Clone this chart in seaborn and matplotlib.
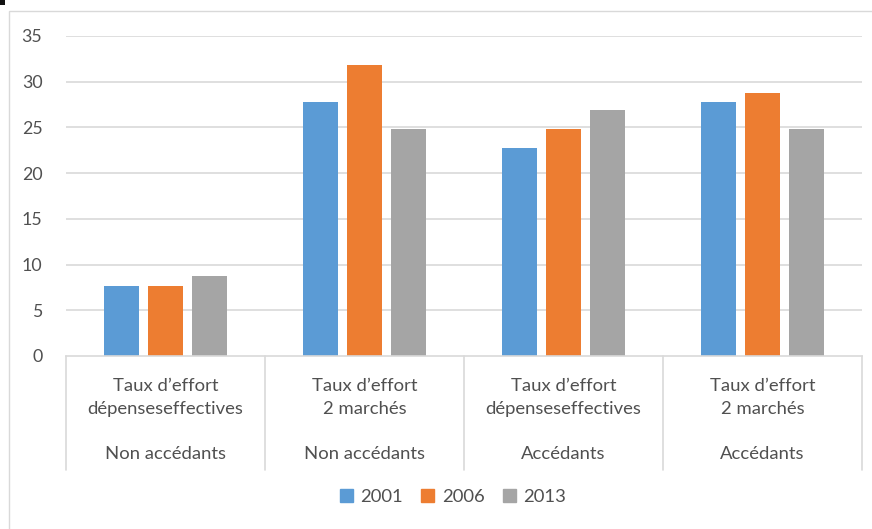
import matplotlib
matplotlib.use("Agg")
import matplotlib.pyplot as plt
import matplotlib.patches as mpatches
import matplotlib.transforms as mtransforms
import seaborn as sns
import pandas as pd

# Data
groups = ["g1", "g2", "g3", "g4"]
level1_labels = ["Taux d’effort\ndépenseseffectives", "Taux d’effort\n2 marchés",
                 "Taux d’effort\ndépenseseffectives", "Taux d’effort\n2 marchés"]
level2_labels = ["Non accédants", "Non accédants", "Accédants", "Accédants"]
years = ["2001", "2006", "2013"]
values_2001 = [7.7, 27.8, 22.8, 27.8]
values_2006 = [7.7, 31.8, 24.8, 28.8]
values_2013 = [8.7, 24.8, 26.9, 24.8]
y_ticks = [0, 5, 10, 15, 20, 25, 30, 35]

colors = ["#5B9BD5", "#ED7D31", "#A5A5A5"]
text_color = "#505050"
grid_color = "#D9D9D9"

rows = []
for yr, vals in zip(years, [values_2001, values_2006, values_2013]):
    for g, v in zip(groups, vals):
        rows.append({"group": g, "year": yr, "value": v})
df = pd.DataFrame(rows)

sns.set_theme(style="white")
plt.rcParams["font.family"] = ["Lato", "DejaVu Sans"]

W, H = 872, 529
fig = plt.figure(figsize=(W / 100, H / 100), dpi=100)
ax = fig.add_axes([66 / W, 1 - 356 / H, (862 - 66) / W, (356 - 36) / H])

sns.barplot(data=df, x="group", y="value", hue="year", order=groups, hue_order=years,
            palette=colors, width=0.67, gap=0.21, saturation=1, ax=ax,
            legend=False, edgecolor="none")

ax.set_ylim(0, 35)
ax.set_xlim(-0.5, 3.5)
ax.set_yticks(y_ticks)
ax.set_yticklabels([str(t) for t in y_ticks])
ax.tick_params(axis="y", length=0, pad=17, labelsize=12.8, labelcolor=text_color)
ax.set_xticks([])
ax.set_xlabel("")
ax.set_ylabel("")
for t in y_ticks[1:]:
    ax.axhline(t, color=grid_color, lw=1.2, zorder=0)
for side in ["top", "right", "left"]:
    ax.spines[side].set_visible(False)
ax.spines["bottom"].set_color(grid_color)
ax.spines["bottom"].set_linewidth(1.2)

# Two-level category axis
trans = mtransforms.blended_transform_factory(ax.transData, ax.transAxes)
ax_h = 356 - 36
def yfrac(py):
    return (356 - py) / ax_h

for xb in [-0.5, 0.5, 1.5, 2.5, 3.5]:
    ax.plot([xb, xb], [0, yfrac(470)], transform=trans, color=grid_color,
            lw=1.2, clip_on=False)
for i, (l1, l2) in enumerate(zip(level1_labels, level2_labels)):
    ax.text(i, yfrac(397.5), l1, transform=trans, ha="center", va="center",
            fontsize=13.3, color=text_color, linespacing=1.55)
    ax.text(i, yfrac(454), l2, transform=trans, ha="center", va="center",
            fontsize=13.3, color=text_color)

# Legend
handles = [mpatches.Patch(color=c, label=y) for c, y in zip(colors, years)]
fig.legend(handles=handles, loc="center", bbox_to_anchor=(453 / W, 1 - 497 / H),
           ncol=3, frameon=False, fontsize=13.3, handlelength=0.7, handleheight=0.7,
           handletextpad=0.4, columnspacing=1.0, labelcolor=text_color)

# Chart area frame
fig.add_artist(mpatches.Rectangle((9 / W, -0.01), 1.0, 1 - 11 / H + 0.01,
                                  transform=fig.transFigure, fill=False,
                                  edgecolor=grid_color, lw=1.0))
fig.add_artist(mpatches.Rectangle((0, 1 - 5 / H), 5 / W, 5 / H,
                                  transform=fig.transFigure, color="#111111", lw=0))

fig.savefig("out.png", dpi=100, facecolor="white")
